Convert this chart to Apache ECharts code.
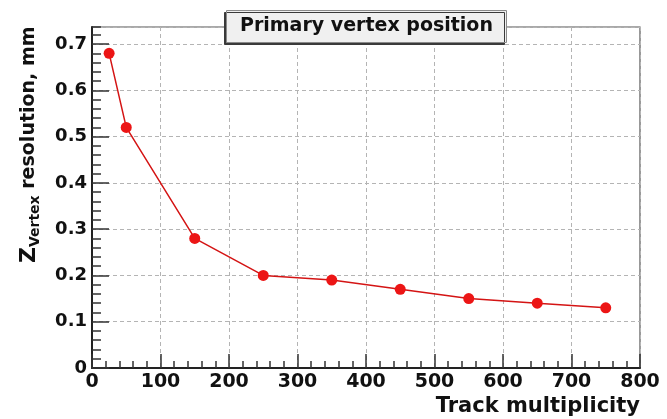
<!DOCTYPE html>
<html>
<head>
<meta charset="utf-8">
<script src="https://cdn.jsdelivr.net/npm/echarts@6/dist/echarts.min.js"></script>
<style>
  html, body { margin: 0; padding: 0; background: #fff; }
  #chart { width: 667px; height: 419px; }
</style>
</head>
<body>
<div id="chart"></div>
<script>
// Track multiplicity vs. Z vertex resolution (mm)
const trackMultiplicity = [25, 50, 150, 250, 350, 450, 550, 650, 750];
const zResolution = [0.68, 0.52, 0.28, 0.20, 0.19, 0.17, 0.15, 0.14, 0.13];
const xTicks = [0, 100, 200, 300, 400, 500, 600, 700, 800];
const yTicks = [0, 0.1, 0.2, 0.3, 0.4, 0.5, 0.6, 0.7];

const FONT = 'DejaVu Sans';
const chart = echarts.init(document.getElementById('chart'), null, { renderer: 'canvas' });

const points = trackMultiplicity.map((x, i) => [x, zResolution[i]]);
const yTop = 0.737;

chart.setOption({
  animation: false,
  backgroundColor: '#ffffff',
  title: {
    text: 'Primary vertex position',
    left: 226,
    top: 10,
    padding: [7, 14, 7, 14],
    backgroundColor: '#f0f0f0',
    borderColor: '#8a8a8a',
    borderWidth: 1,
    shadowColor: '#3a3a3a',
    shadowBlur: 0,
    shadowOffsetX: -2,
    shadowOffsetY: 2,
    textStyle: { fontFamily: FONT, fontWeight: 'bold', fontSize: 19, color: '#111' },
    z: 10
  },
  grid: {
    left: 92, top: 27, right: 27, bottom: 51,
    show: true, borderColor: '#555', borderWidth: 1.2, backgroundColor: 'transparent'
  },
  xAxis: {
    type: 'value',
    min: xTicks[0],
    max: xTicks[xTicks.length - 1],
    interval: 100,
    name: 'Track multiplicity',
    nameLocation: 'end',
    nameGap: 0,
    nameTextStyle: {
      fontFamily: FONT, fontWeight: 'bold', fontSize: 21, color: '#111',
      align: 'right', verticalAlign: 'top', padding: [28, 0, 0, 0]
    },
    axisLine: { show: true, onZero: false, lineStyle: { color: '#222', width: 2 } },
    axisTick: { show: true, inside: true, length: 14, lineStyle: { color: '#333', width: 1.5 } },
    minorTick: { show: true, splitNumber: 5, length: 7, lineStyle: { color: '#333', width: 1.5 } },
    axisLabel: {
      fontFamily: FONT, fontWeight: 'bold', fontSize: 19, color: '#111', margin: 5
    },
    splitLine: { show: true, lineStyle: { color: '#b4b4b4', type: [4, 3], width: 1 } }
  },
  yAxis: [
    {
      type: 'value',
      min: 0,
      max: yTop,
      interval: 0.1,
      axisLine: { show: true, onZero: false, lineStyle: { color: '#222', width: 2 } },
      axisTick: { show: true, inside: true, length: 17, lineStyle: { color: '#333', width: 1.5 } },
      axisLabel: {
        fontFamily: FONT, fontWeight: 'bold', fontSize: 18, color: '#111', margin: 5,
        showMaxLabel: false,
        formatter: v => (yTicks.some(t => Math.abs(t - v) < 1e-9) ? String(+v.toFixed(1)) : '')
      },
      splitLine: { show: true, lineStyle: { color: '#b4b4b4', type: [4, 3], width: 1 } }
    },
    {
      // secondary divisions every 0.02 on the same scale
      type: 'value',
      position: 'left',
      min: 0,
      max: yTop,
      interval: 0.02,
      axisLine: { show: false },
      axisTick: { show: true, inside: true, length: 9, lineStyle: { color: '#333', width: 1.5 } },
      axisLabel: { show: false },
      splitLine: { show: false }
    }
  ],
  graphic: [
    {
      type: 'text',
      x: 29,
      y: 263,
      rotation: Math.PI / 2,
      style: {
        text: '{z|Z}{s|Vertex}{n| resolution, mm}',
        align: 'left',
        verticalAlign: 'middle',
        fill: '#111',
        rich: {
          z: { fontFamily: FONT, fontWeight: 'bold', fontSize: 22, fill: '#111', verticalAlign: 'middle', lineHeight: 26 },
          s: { fontFamily: FONT, fontWeight: 'bold', fontSize: 14, fill: '#111', verticalAlign: 'bottom', lineHeight: 14, padding: [10, 0, 0, 0] },
          n: { fontFamily: FONT, fontWeight: 'bold', fontSize: 19, fill: '#111', verticalAlign: 'middle', lineHeight: 26 }
        }
      }
    }
  ],
  series: [
    {
      type: 'line',
      data: points,
      yAxisIndex: 0,
      symbol: 'circle',
      symbolSize: 11,
      itemStyle: { color: '#ec1515' },
      lineStyle: { color: '#d41414', width: 1.5 },
      z: 5
    }
  ]
});
</script>
</body>
</html>
